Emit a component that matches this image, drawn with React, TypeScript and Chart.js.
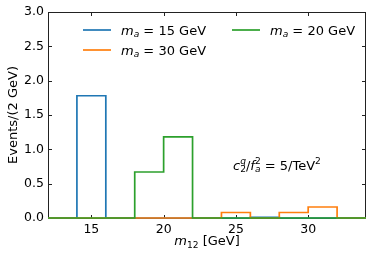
import React, { useEffect, useRef } from 'react';
import { Chart, registerables } from 'chart.js';
Chart.register(...registerables);

const FAMILY = '"DejaVu Sans", sans-serif';

// histogram bin edges (GeV) and per-bin event counts
const binEdges = [12, 14, 16, 18, 20, 22, 24, 26, 28, 30, 32, 34];
const ma15 = [0, 1.78, 0, 0, 0, 0, 0, 0.01, 0, 0, 0];
const ma30 = [0, 0, 0, 0, 0, 0, 0.08, 0, 0.08, 0.16, 0];
const ma20 = [0, 0, 0, 0.67, 1.18, 0, 0, 0, 0, 0, 0];
const seriesMasses = ['15', '30', '20'];
const seriesColors = ['#1f77b4', '#ff7f0e', '#2ca02c'];
const xTicks = [15, 20, 25, 30];
const yTicks = [0, 0.5, 1.0, 1.5, 2.0, 2.5, 3.0];
const yTitle = 'Events/(2 GeV)';

type Seg = { t: string; it?: boolean; s?: 'sub' | 'sup'; stack?: boolean };

function segFont(seg: Seg, size: number) {
  const sz = seg.s ? size * 0.7 : size;
  return `${seg.it ? 'italic ' : ''}${sz}px ${FAMILY}`;
}

function drawRich(ctx: CanvasRenderingContext2D, segs: Seg[], x: number, y: number, size: number, dry = false) {
  let cx = x;
  let prevStart = x;
  for (const seg of segs) {
    ctx.font = segFont(seg, size);
    const m = ctx.measureText(seg.t).width;
    const dy = seg.s === 'sub' ? size * 0.22 : seg.s === 'sup' ? -size * 0.42 : 0;
    let sx: number;
    if (seg.stack) sx = prevStart;
    else { sx = cx; prevStart = cx; }
    if (!dry) ctx.fillText(seg.t, sx, y + dy);
    cx = seg.stack ? Math.max(cx, sx + m) : sx + m;
  }
  return cx - x;
}

function stepPoints(vals: number[]) {
  const pts: { x: number; y: number }[] = [{ x: binEdges[0], y: 0 }];
  vals.forEach((v, i) => {
    pts.push({ x: binEdges[i], y: v });
    pts.push({ x: binEdges[i + 1], y: v });
  });
  pts.push({ x: binEdges[binEdges.length - 1], y: 0 });
  return pts;
}

const framePlugin = {
  id: 'frame',
  beforeDatasetsDraw(chart: any) {
    const { ctx, chartArea: a, scales } = chart;
    const x = scales.x, y = scales.y;
    ctx.save();
    ctx.strokeStyle = '#222';
    ctx.lineWidth = 1;
    const L = Math.round(a.left) + 0.5, R = Math.round(a.right) - 0.5;
    const T = Math.round(a.top) + 0.5, B = Math.round(a.bottom) + 0.5;
    ctx.strokeRect(L, T, R - L, B - T);
    const tl = 3.5;
    ctx.beginPath();
    for (const v of xTicks) {
      const px = Math.round(x.getPixelForValue(v)) + 0.5;
      ctx.moveTo(px, B); ctx.lineTo(px, B - tl);
      ctx.moveTo(px, T); ctx.lineTo(px, T + tl);
    }
    for (const v of yTicks) {
      const py = Math.round(y.getPixelForValue(v)) + 0.5;
      ctx.moveTo(L, py); ctx.lineTo(L + tl, py);
      ctx.moveTo(R, py); ctx.lineTo(R - tl, py);
    }
    ctx.stroke();
    ctx.restore();
  },
  afterDraw(chart: any) {
    const { ctx, chartArea: a } = chart;
    ctx.save();
    ctx.fillStyle = '#000';
    ctx.textBaseline = 'alphabetic';
    ctx.textAlign = 'left';
    // y title
    ctx.save();
    ctx.translate(14, (a.top + a.bottom) / 2);
    ctx.rotate(-Math.PI / 2);
    ctx.font = `13px ${FAMILY}`;
    ctx.textAlign = 'center';
    ctx.textBaseline = 'middle';
    ctx.fillText(yTitle, 0, 0);
    ctx.restore();
    // x title
    const xs: Seg[] = [{ t: 'm', it: true }, { t: '12', s: 'sub' }, { t: ' [GeV]' }];
    const w = drawRich(ctx, xs, 0, 0, 13, true);
    drawRich(ctx, xs, (a.left + a.right) / 2 - w / 2, 245, 13);
    // annotation
    const ann: Seg[] = [
      { t: 'c', it: true }, { t: '2', s: 'sub' }, { t: 'q', s: 'sup', it: true, stack: true },
      { t: '/' }, { t: 'f', it: true }, { t: '2', s: 'sup' }, { t: 'a', s: 'sub', it: true, stack: true },
      { t: ' = 5/TeV' }, { t: '2', s: 'sup' },
    ];
    drawRich(ctx, ann, 233, 169.5, 13);
    // legend
    const pos = [
      { lx: 83, ty: 30 },
      { lx: 83, ty: 50 },
      { lx: 232, ty: 30 },
    ];
    seriesMasses.forEach((mass, i) => {
      const p = pos[i];
      ctx.strokeStyle = seriesColors[i];
      ctx.lineWidth = 1.7;
      ctx.beginPath();
      ctx.moveTo(p.lx, p.ty);
      ctx.lineTo(p.lx + 28, p.ty);
      ctx.stroke();
      const segs: Seg[] = [{ t: 'm', it: true }, { t: 'a', s: 'sub', it: true }, { t: ` = ${mass} GeV` }];
      drawRich(ctx, segs, p.lx + 38, p.ty + 4.5, 13);
    });
    ctx.restore();
  },
};

export default function App() {
  const ref = useRef<HTMLCanvasElement>(null);
  useEffect(() => {
    document.body.style.margin = '0';
    const canvas = ref.current!;
    const allSeries = [ma15, ma30, ma20];
    // Chart.js paints dataset 0 on top, so list them in reverse of matplotlib's plotting order
    const datasets = allSeries
      .map((vals, i) => ({
        label: `m_a = ${seriesMasses[i]} GeV`,
        data: stepPoints(vals),
        borderColor: seriesColors[i],
        borderWidth: 1.7,
        pointRadius: 0,
        fill: false,
        tension: 0,
        clip: false as any,
      }))
      .reverse();
    const chart = new Chart(canvas, {
      type: 'line',
      data: { datasets },
      options: {
        responsive: false,
        animation: false,
        events: [],
        layout: { padding: { left: 0, right: 7, top: 12, bottom: 0 } },
        plugins: { legend: { display: false }, tooltip: { enabled: false }, title: { display: false } },
        scales: {
          x: {
            type: 'linear',
            min: 12,
            max: 34,
            afterBuildTicks: (s: any) => { s.ticks = xTicks.map((v) => ({ value: v })); },
            afterFit: (s: any) => { s.height = 41; },
            grid: { display: false, drawTicks: false },
            border: { display: false },
            ticks: { padding: 4, color: '#000', font: { family: FAMILY, size: 12.5 }, maxRotation: 0, autoSkip: false },
          },
          y: {
            type: 'linear',
            min: 0,
            max: 3,
            afterBuildTicks: (s: any) => { s.ticks = yTicks.map((v) => ({ value: v })); },
            afterFit: (s: any) => { s.width = 48; },
            grid: { display: false, drawTicks: false },
            border: { display: false },
            ticks: {
              padding: 4,
              color: '#000',
              font: { family: FAMILY, size: 12.5 },
              autoSkip: false,
              callback: (v: any) => Number(v).toFixed(1),
            },
          },
        },
      },
      plugins: [framePlugin],
    });
    return () => chart.destroy();
  }, []);
  return <canvas ref={ref} width={373} height={259} style={{ display: 'block', width: 373, height: 259 }} />;
}
